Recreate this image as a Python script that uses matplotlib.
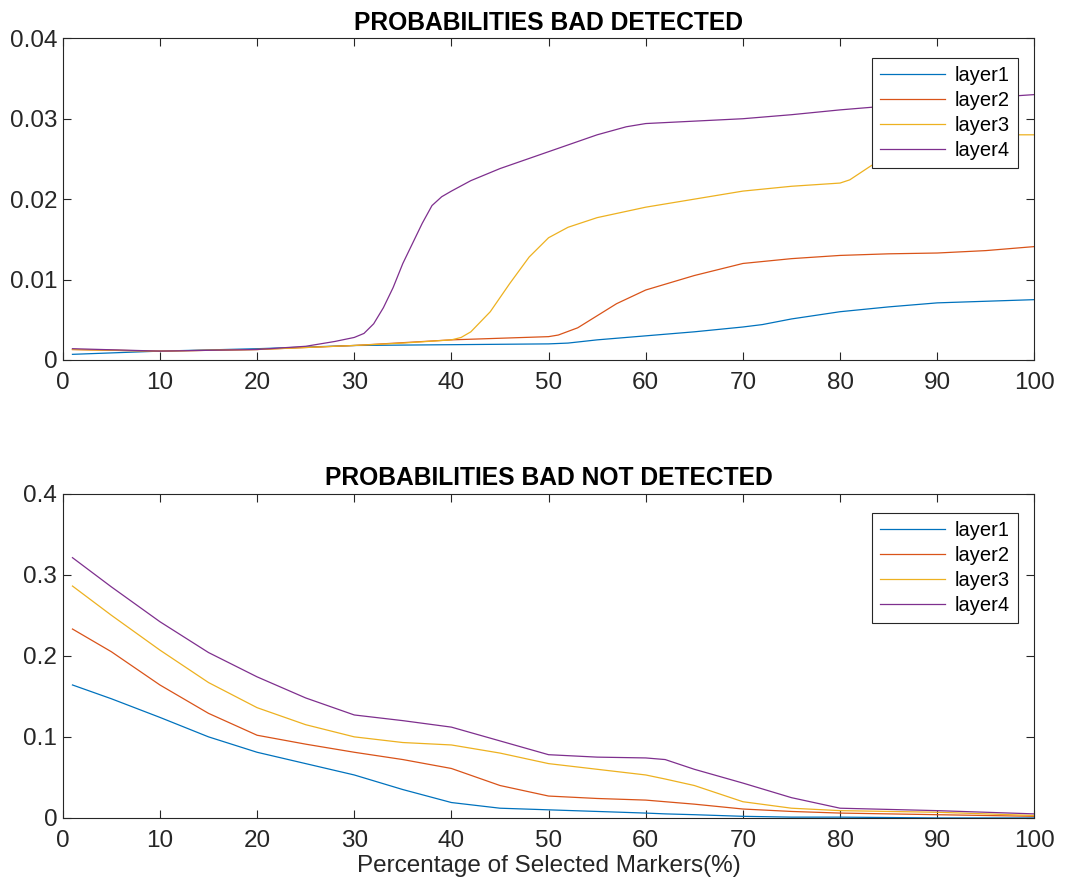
import numpy as np
import matplotlib.pyplot as plt

plt.rcParams['font.family'] = ['Liberation Sans', 'DejaVu Sans']

# --- Probabilities bad detected ---
x1_l1 = [1, 10, 20, 30, 40, 50, 52, 55, 60, 65, 70, 72, 75, 80, 85, 90, 95, 100]
y1_l1 = [0.0007, 0.0011, 0.0014, 0.0018, 0.0019, 0.0020, 0.0021, 0.0025, 0.0030, 0.0035,
         0.0041, 0.0044, 0.0051, 0.0060, 0.0066, 0.0071, 0.0073, 0.0075]

x1_l2 = [1, 5, 10, 20, 30, 40, 45, 50, 51, 53, 55, 57, 60, 65, 70, 75, 80, 85, 90, 95, 100]
y1_l2 = [0.0013, 0.0012, 0.0011, 0.0013, 0.0018, 0.0025, 0.0027, 0.0029, 0.0031, 0.0040,
         0.0055, 0.0070, 0.0087, 0.0105, 0.0120, 0.0126, 0.0130, 0.0132, 0.0133, 0.0136, 0.0141]

x1_l3 = [1, 10, 20, 30, 35, 40, 41, 42, 44, 46, 48, 50, 52, 55, 60, 65, 70, 75, 80, 81,
         83, 85, 87, 90, 95, 100]
y1_l3 = [0.0013, 0.0011, 0.0013, 0.0018, 0.0021, 0.0025, 0.0028, 0.0035, 0.0060, 0.0095,
         0.0128, 0.0152, 0.0165, 0.0177, 0.0190, 0.0200, 0.0210, 0.0216, 0.0220, 0.0224,
         0.0240, 0.0255, 0.0265, 0.0275, 0.0280, 0.0280]

x1_l4 = [1, 10, 20, 25, 28, 30, 31, 32, 33, 34, 35, 36, 37, 38, 39, 40, 42, 45, 50, 55,
         58, 60, 65, 70, 75, 80, 85, 90, 95, 100]
y1_l4 = [0.0014, 0.0011, 0.0013, 0.0017, 0.0023, 0.0028, 0.0033, 0.0045, 0.0065, 0.0090,
         0.0120, 0.0145, 0.0170, 0.0192, 0.0203, 0.0210, 0.0223, 0.0238, 0.0259, 0.0280,
         0.0290, 0.0294, 0.0297, 0.0300, 0.0305, 0.0311, 0.0316, 0.0321, 0.0326, 0.0330]

# --- Probabilities bad not detected ---
x2 = [1, 5, 10, 15, 20, 25, 30, 35, 40, 45, 50, 55, 60, 62, 65, 70, 75, 80, 90, 100]
y2_l1 = [0.164, 0.147, 0.124, 0.100, 0.081, 0.067, 0.053, 0.035, 0.019, 0.012, 0.010,
         0.008, 0.006, 0.005, 0.004, 0.002, 0.001, 0.001, 0.000, 0.000]
y2_l2 = [0.233, 0.205, 0.164, 0.129, 0.102, 0.091, 0.081, 0.072, 0.061, 0.040, 0.027,
         0.024, 0.022, 0.020, 0.017, 0.011, 0.008, 0.006, 0.004, 0.002]
y2_l3 = [0.286, 0.250, 0.207, 0.167, 0.136, 0.115, 0.100, 0.093, 0.090, 0.080, 0.067,
         0.060, 0.053, 0.048, 0.040, 0.020, 0.012, 0.009, 0.007, 0.003]
y2_l4 = [0.321, 0.285, 0.242, 0.204, 0.174, 0.148, 0.127, 0.120, 0.112, 0.095, 0.078,
         0.075, 0.074, 0.072, 0.060, 0.043, 0.025, 0.012, 0.009, 0.005]

labels = ['layer1', 'layer2', 'layer3', 'layer4']
colors = ['#0072BD', '#D95319', '#EDB120', '#7E2F8E']

fig = plt.figure(figsize=(10.82, 8.91), dpi=100)
ax1 = fig.add_axes([0.058, 0.596, 0.898, 0.361])
ax2 = fig.add_axes([0.058, 0.082, 0.898, 0.364])

top = [(x1_l1, y1_l1), (x1_l2, y1_l2), (x1_l3, y1_l3), (x1_l4, y1_l4)]
for (xx, yy), c, lab in zip(top, colors, labels):
    ax1.plot(xx, yy, color=c, lw=0.9, label=lab)

for yy, c, lab in zip([y2_l1, y2_l2, y2_l3, y2_l4], colors, labels):
    ax2.plot(x2, yy, color=c, lw=0.9, label=lab)

ax1.set_ylim(0, 0.04)
ax1.set_yticks([0, 0.01, 0.02, 0.03, 0.04])
ax1.set_yticklabels(['0', '0.01', '0.02', '0.03', '0.04'])
ax1.set_title('PROBABILITIES BAD DETECTED', fontsize=17.7, fontweight='bold', pad=6)

ax2.set_ylim(0, 0.4)
ax2.set_yticks([0, 0.1, 0.2, 0.3, 0.4])
ax2.set_yticklabels(['0', '0.1', '0.2', '0.3', '0.4'])
ax2.set_title('PROBABILITIES BAD NOT DETECTED', fontsize=17.7, fontweight='bold', pad=6)
ax2.set_xlabel('Percentage of Selected Markers(%)', fontsize=17.5, color='#262626',
               labelpad=2)

for ax in (ax1, ax2):
    ax.set_xlim(0, 100)
    ax.set_xticks(range(0, 101, 10))
    ax.tick_params(direction='in', top=True, right=True, labelsize=17.5,
                   length=6, width=0.8, colors='#262626', pad=4)
    ax.tick_params(axis='x', pad=9)
    for s in ax.spines.values():
        s.set_color('#262626')
        s.set_linewidth(0.8)
    leg = ax.legend(loc='upper right', bbox_to_anchor=(0.983, 0.94), fontsize=14.5,
                    fancybox=False, framealpha=1, edgecolor='#262626',
                    handlelength=3.2, borderpad=0.4, labelspacing=0.3,
                    handletextpad=0.5, borderaxespad=0)
    leg.get_frame().set_linewidth(0.8)

fig.savefig('out.png', dpi=100)
